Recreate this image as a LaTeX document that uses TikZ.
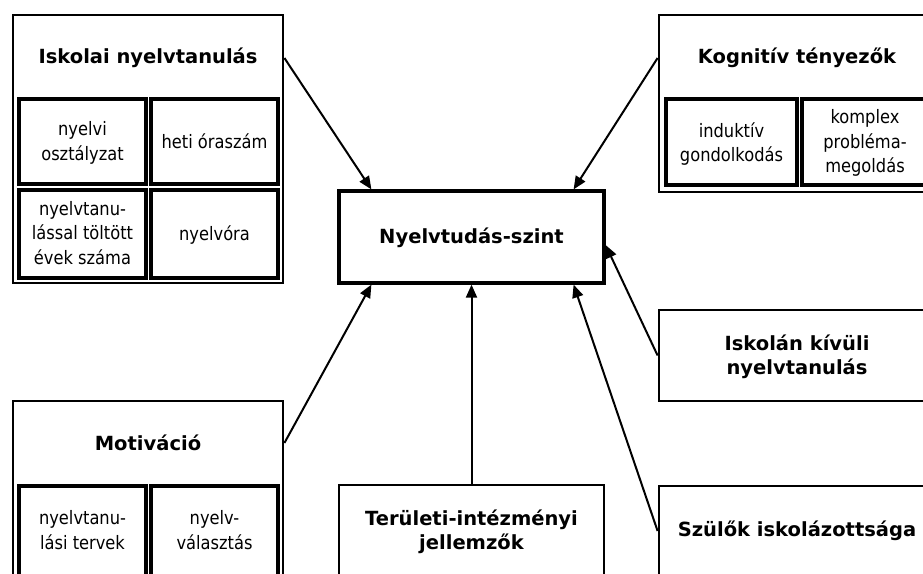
\documentclass[tikz,border=0pt]{standalone}
\usepackage{fontspec}
\setmainfont{DejaVu Sans}
\newfontfamily\narrowfont[FakeStretch=0.88]{DejaVu Sans}
\usetikzlibrary{arrows.meta}

\begin{document}
\begin{tikzpicture}[x=1pt,y=-1pt,
  frame/.style={draw, line width=2.8pt, inner sep=0pt},
  cell/.style={draw, line width=3.4pt, inner sep=0pt},
  title/.style={font=\fontsize{19.5}{24}\selectfont\bfseries, align=center, inner sep=0pt},
  celltext/.style={font=\narrowfont\fontsize{18.5}{24.5}\selectfont, align=center, inner sep=0pt},
  link/.style={line width=2pt, -{Triangle[length=13pt,width=11pt]}}]
\useasboundingbox (0,0) rectangle (923,573);
\clip (0,0) rectangle (923,573);

% central outcome
\node[frame, line width=3.2pt, minimum width=265pt, minimum height=92pt] (cen) at (471.5,237) {};
\node[title] (cenT) at (471.5,238) {Nyelvtudás-szint};

% school language learning
\node[frame, minimum width=270pt, minimum height=268pt] (isk) at (148,149) {};
\node[title] (iskT) at (148,58) {Iskolai nyelvtanulás};
\node[cell, minimum width=127pt, minimum height=85pt] (c11) at (82.5,141.5) {};
\node[cell, minimum width=127pt, minimum height=85pt] (c12) at (214.5,141.5) {};
\node[cell, minimum width=127pt, minimum height=88pt] (c21) at (82.5,234) {};
\node[cell, minimum width=127pt, minimum height=88pt] (c22) at (214.5,234) {};
\node[celltext] (t11) at (82.5,143) {nyelvi\\osztályzat};
\node[celltext] (t12) at (214.5,141) {heti óraszám};
\node[celltext] (t21) at (82.5,233) {nyelvtanu-\\lással töltött\\évek száma};
\node[celltext] (t22) at (214.5,235) {nyelvóra};

% cognitive factors
\node[frame, minimum width=276pt, minimum height=177pt] (kog) at (797,103.5) {};
\node[title] (kogT) at (797,58) {Kognitív tényezők};
\node[cell, minimum width=131pt, minimum height=86pt] (k1) at (731.5,142) {};
\node[cell, minimum width=126pt, minimum height=86pt] (k2) at (865,142) {};
\node[celltext] (tk1) at (731.5,144) {induktív\\gondolkodás};
\node[celltext] (tk2) at (865,143) {komplex\\probléma-\\megoldás};

% out-of-school learning
\node[frame, minimum width=276pt, minimum height=91pt] (kiv) at (797,355.5) {};
\node[title] (kivT) at (797,357) {Iskolán kívüli\\nyelvtanulás};

% parents' education
\node[frame, minimum width=276pt, minimum height=134pt] (szul) at (797,553) {};
\node[title] (szulT) at (797,531) {Szülők iskolázottsága};

% regional and institutional features
\node[frame, minimum width=265pt, minimum height=134pt] (ter) at (471.5,552) {};
\node[title] (terT) at (471.5,532) {Területi-intézményi\\jellemzők};

% motivation
\node[frame, minimum width=270pt, minimum height=279pt] (mot) at (148,540.5) {};
\node[title] (motT) at (148,443) {Motiváció};
\node[cell, minimum width=127pt, minimum height=90pt] (m1) at (82.5,531) {};
\node[cell, minimum width=127pt, minimum height=90pt] (m2) at (214.5,531) {};
\node[celltext] (tm1) at (82.5,530) {nyelvtanu-\\lási tervek};
\node[celltext] (tm2) at (214.5,530) {nyelv-\\választás};

% influences on the central outcome
\draw[link] (isk.east |- iskT) -- ([xshift=34pt]cen.north west);
\draw[link] (kog.west |- kogT) -- ([xshift=-32pt]cen.north east);
\draw[link] (kiv.west) -- ([yshift=-8pt]cen.east);
\draw[link] (szul.west |- szulT) -- ([xshift=-32pt]cen.south east);
\draw[link] (ter.north) -- (cen.south);
\draw[link] (mot.east |- motT) -- ([xshift=34pt]cen.south west);
\end{tikzpicture}
\end{document}
